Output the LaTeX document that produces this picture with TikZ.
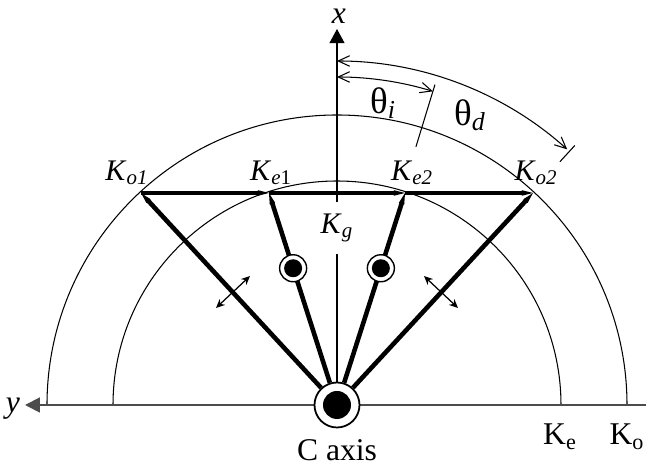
\documentclass[tikz,border=0pt]{standalone}
\usepackage{fontspec}
\setmainfont{Liberation Serif}
\usetikzlibrary{arrows.meta,positioning,calc}

\begin{document}
\begin{tikzpicture}[>=Stealth,x=0.2mm,y=0.2mm]
  \tikzstyle{axis}=[line width=1.1pt,black!70]
  \tikzstyle{circ}=[line width=0.6pt]
  \tikzstyle{kvec}=[line width=2.6pt,-{Stealth[length=15pt,width=7.5pt,inset=8pt]}]
  \tikzstyle{pol}=[line width=0.7pt,{Stealth[length=5pt,width=4.5pt]}-{Stealth[length=5pt,width=4.5pt]}]
  \tikzstyle{ang}=[line width=0.6pt,{Straight Barb[length=6.5pt,width=6pt]}-{Straight Barb[length=6.5pt,width=6pt]}]
  \tikzstyle{axle}=[circle,draw,line width=1pt,fill=white,minimum size=9mm,inner sep=0pt,
    path picture={\fill[black] (path picture bounding box.center) circle[radius=2.8mm];}]
  \tikzstyle{polmark}=[circle,draw,line width=0.8pt,fill=white,minimum size=5.4mm,inner sep=0pt,
    path picture={\fill[black] (path picture bounding box.center) circle[radius=1.8mm];}]
  \tikzstyle{klbl}=[font=\fontsize{17pt}{17pt}\selectfont,inner sep=0pt]
  \tikzstyle{blbl}=[font=\fontsize{18pt}{18pt}\selectfont,inner sep=0pt]
  \tikzstyle{albl}=[font=\fontsize{21pt}{21pt}\selectfont,inner sep=0pt]
  \useasboundingbox (-337,-61) rectangle (309,405);

  % wave vector end points
  \coordinate (o) at (0,0);
  \coordinate (ko1) at (-196,212);
  \coordinate (ke1) at (-68,212);
  \coordinate (ke2) at (68,212);
  \coordinate (ko2) at (196,212);
  \coordinate (xtip) at (0,376);
  \coordinate (yend) at (309,0);
  \coordinate (ytip) at (-312,0);

  % index surfaces
  \draw[circ] (-224,0) arc[start angle=180,end angle=0,radius=224];
  \draw[circ] (-290,0) arc[start angle=180,end angle=0,radius=290];

  % axes
  \draw[axis,-{Triangle[length=8.5pt,width=8.5pt]}] (yend) -- (ytip);
  \node[klbl,minimum height=10.2mm] (kg) at (0,177) {\textit{K}\textsubscript{\textit{g}}};
  \draw[line width=0.6pt] (o) -- (kg.south);
  \draw[line width=0.6pt,-{Triangle[length=8pt,width=8.5pt]}] (kg.north) -- (xtip);

  % angles
  \coordinate (ti0) at (90:328);
  \coordinate (td0) at (90:344);
  \draw[ang] (ti0) arc[start angle=90,end angle=73,radius=328];
  \draw[ang] (td0) arc[start angle=90,end angle=48,radius=344];
  \draw[line width=0.6pt] (73:270) -- (73:335);
  \draw[line width=0.6pt] (47.5:330) -- (47.5:352);

  % C axis
  \node[axle] (cax) at (o) {};

  % wave vectors
  \draw[kvec] (ko1) -- (ke1);
  \draw[kvec] (ke1) -- (ke2);
  \draw[kvec] (ke2) -- (ko2);
  \draw[kvec] (cax) -- (ko1);
  \draw[kvec] (cax) -- (ke1);
  \draw[kvec] (cax) -- (ke2);
  \draw[kvec] (cax) -- (ko2);

  % polarisation marks
  \node[polmark] (m1) at ($(o)!0.645!(ke1)$) {};
  \node[polmark] (m2) at ($(o)!0.645!(ke2)$) {};
  \coordinate (p1a) at (-87,129);
  \coordinate (p1b) at (-121,97);
  \coordinate (p2a) at (87,129);
  \coordinate (p2b) at (121,97);
  \draw[pol] (p1b) -- (p1a);
  \draw[pol] (p2b) -- (p2a);

  % labels
  \node[klbl] (lko1) at (-210,232) {\textit{K}\textsubscript{\textit{o1}}};
  \node[klbl] (lke1) at (-66,232) {\textit{K}\textsubscript{\textit{e}1}};
  \node[klbl] (lke2) at (75,232) {\textit{K}\textsubscript{\textit{e2}}};
  \node[klbl] (lko2) at (199,232) {\textit{K}\textsubscript{\textit{o2}}};
  \node[blbl] (lx) at (2,389) {\textit{x}};
  \node[blbl] (ly) at (-324,-4) {\textit{y}};
  \node[blbl] (lke) at (223,-32) {K\textsubscript{e}};
  \node[blbl] (lko) at (290,-32) {K\textsubscript{o}};
  \node[font=\fontsize{18pt}{18pt}\selectfont,inner sep=0pt,below=6pt of cax] (lc) {C axis};
  \node[albl] (lti) at (46,302) {θ\textsubscript{\textit{i}}};
  \node[albl] (ltd) at (133,290) {θ\textsubscript{\textit{d}}};
\end{tikzpicture}
\end{document}
